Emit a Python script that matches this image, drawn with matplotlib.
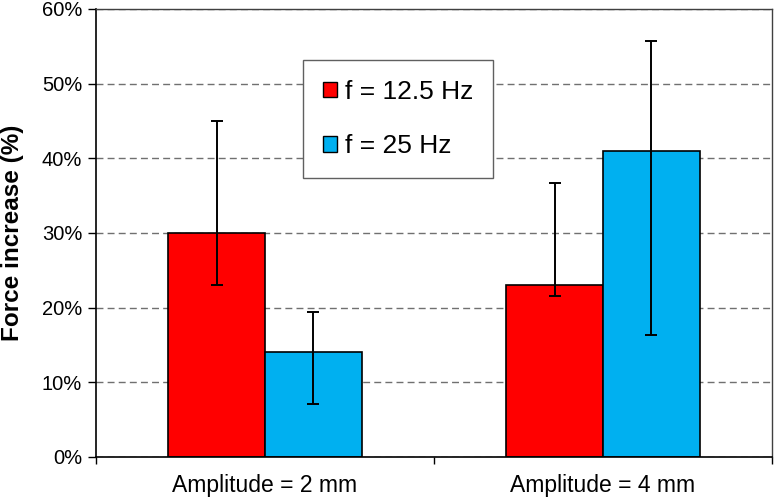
import matplotlib
matplotlib.use('Agg')
import matplotlib.pyplot as plt
import matplotlib.ticker as mtick
from matplotlib.patches import Patch
import numpy as np

plt.rcParams['font.family'] = ['Liberation Sans', 'DejaVu Sans']

categories = ['Amplitude = 2 mm', 'Amplitude = 4 mm']
series_names = ['f = 12.5 Hz', 'f = 25 Hz']
series_colors = ['#FF0000', '#00B0F0']

# mean force increase (%), and lower / upper ends of the error bars
values = [[30.0, 23.0], [14.0, 41.0]]
err_low = [[23.0, 21.6], [7.1, 16.3]]
err_high = [[45.0, 36.7], [19.4, 55.7]]

y_ticks = [0, 10, 20, 30, 40, 50, 60]

fig = plt.figure(figsize=(7.74, 4.97), dpi=100)
ax = fig.add_axes([0.124, 0.0805, 0.8734, 0.9015])

x = np.arange(len(categories))
w = 0.286
offsets = [-w / 2, w / 2]

for i in range(len(series_names)):
    v = np.array(values[i])
    lo = v - np.array(err_low[i])
    hi = np.array(err_high[i]) - v
    ax.bar(x + offsets[i], v, width=w, color=series_colors[i],
           edgecolor='black', linewidth=1.2, zorder=2)
    ax.errorbar(x + offsets[i], v, yerr=[lo, hi], fmt='none', ecolor='black',
                elinewidth=1.4, capsize=4, capthick=1.4, zorder=3)

ax.set_xlim(-0.5, 1.5)
ax.set_ylim(0, 60)
ax.set_yticks(y_ticks)
ax.yaxis.set_major_formatter(mtick.PercentFormatter(100, decimals=0))
ax.tick_params(axis='y', labelsize=14.5, direction='out', length=6, width=1, pad=4)

ax.set_xticks(x)
ax.set_xticklabels(categories, fontsize=16.5)
ax.tick_params(axis='x', which='major', length=0, pad=12)
ax.set_xticks([-0.5, 0.5, 1.5], minor=True)
ax.tick_params(axis='x', which='minor', direction='out', length=5, width=1)

ax.yaxis.grid(True, linestyle=(0, (5, 3)), color='#707070', linewidth=1)
ax.set_axisbelow(True)

for s in ['left', 'bottom']:
    ax.spines[s].set_color('black')
    ax.spines[s].set_linewidth(1.2)
for s in ['top', 'right']:
    ax.spines[s].set_color('#404040')
    ax.spines[s].set_linewidth(1)

ax.set_ylabel('Force increase (%)', fontsize=17.5, fontweight='bold')
ax.yaxis.set_label_coords(-0.107, 0.5)

handles = [Patch(facecolor=c, edgecolor='black', linewidth=1) for c in series_colors]
leg = ax.legend(handles, series_names, loc='upper left', bbox_to_anchor=(0.306, 0.886),
                fontsize=19, frameon=True, fancybox=False, framealpha=1,
                edgecolor='#606060', borderpad=0.75, labelspacing=1.15,
                handlelength=0.55, handleheight=0.55, handletextpad=0.3,
                borderaxespad=0)
leg.get_frame().set_linewidth(1)

fig.savefig('out.png', dpi=100)
